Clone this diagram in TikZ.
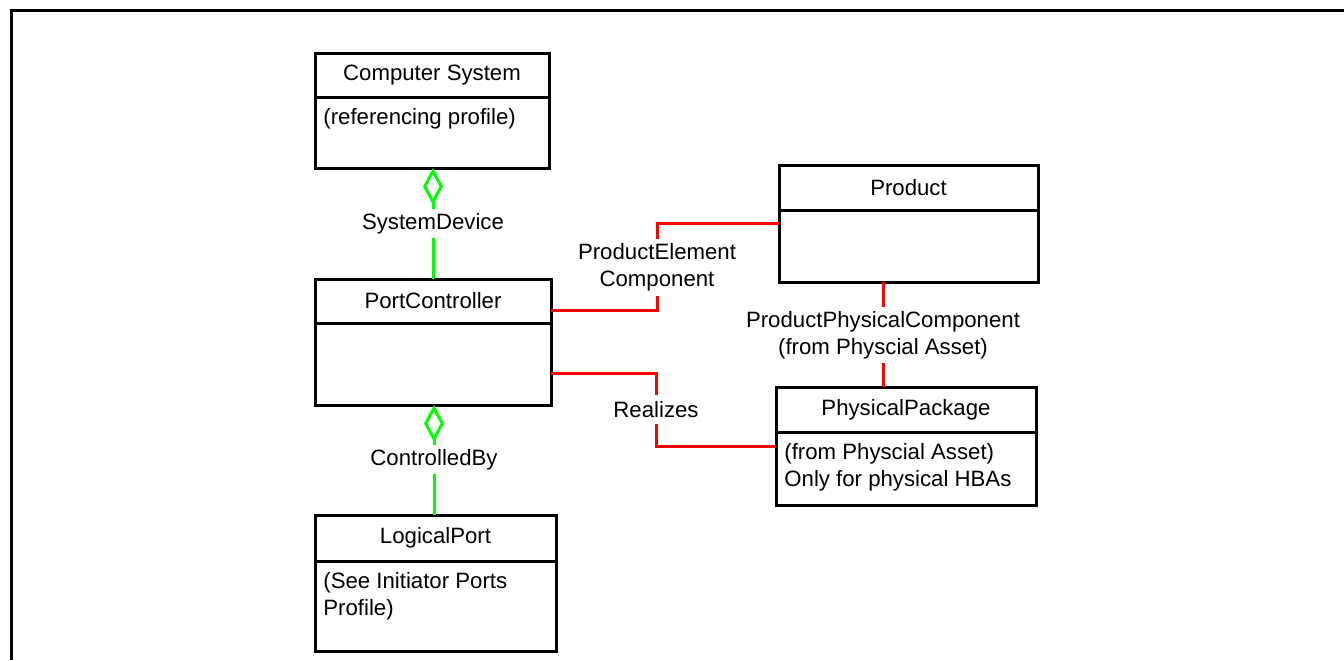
\documentclass[tikz,border=0pt]{standalone}
\usepackage{fontspec}
\setmainfont{Liberation Sans}
\usetikzlibrary{arrows.meta}

\tikzset{
	classhead/.style={draw, line width=1.5pt, anchor=north west, inner sep=0pt, outer sep=0pt, minimum height=22pt},
	classbody/.style={draw, line width=1.5pt, anchor=north west, inner sep=0pt, outer sep=0pt},
	bodytext/.style={anchor=north west, align=left, inner sep=0pt, xshift=4pt, yshift=-5.5pt},
	assoc/.style={align=center, inner sep=0pt, minimum height=14.5pt},
	greenlink/.style={draw=green, line width=1.5pt},
	redlink/.style={draw=red, line width=1.5pt},
	aggr/.style={greenlink, {Diamond[open,length=18.5pt,width=10pt]}-}
}

\begin{document}
\begin{tikzpicture}[x=0.5pt, y=-0.5pt, font=\fontsize{11.1}{13.5}\selectfont]
	\useasboundingbox (0,0) rectangle (1344,660);
	\draw[line width=1.5pt] (11,660) -- (11,10) -- (1344,10);

	\node[classhead, minimum width=117pt] (cs) at (315,53) {Computer System};
	\node[classbody, minimum width=117pt, minimum height=35.5pt] (csb) at (cs.south west) {};
	\node[bodytext] (cst) at (csb.north west) {(referencing profile)};

	\node[classhead, minimum width=118pt] (pc) at (315,279) {PortController};
	\node[classbody, minimum width=118pt, minimum height=41pt] (pcb) at (pc.south west) {};

	\node[classhead, minimum width=120.5pt, minimum height=23pt] (lp) at (315,515) {LogicalPort};
	\node[classbody, minimum width=120.5pt, minimum height=45pt] (lpb) at (lp.south west) {};
	\node[bodytext] (lpt) at (lpb.north west) {(See Initiator Ports\\Profile)};

	\node[classhead, minimum width=129.5pt, minimum height=22.5pt] (pr) at (779,165) {Product};
	\node[classbody, minimum width=129.5pt, minimum height=36pt] (prb) at (pr.south west) {};

	\node[classhead, minimum width=130pt, minimum height=22.5pt] (pp) at (776,387) {PhysicalPackage};
	\node[classbody, minimum width=130pt, minimum height=36.5pt] (ppb) at (pp.south west) {};
	\node[bodytext] (ppt) at (ppb.north west) {(from Physcial Asset)\\Only for physical HBAs};

	\node[assoc] (sd) at (433,223.5) {SystemDevice};
	\node[assoc] (cb) at (434,459.5) {ControlledBy};
	\node[assoc, minimum height=28.5pt] (pec) at (657,267.5) {ProductElement\\Component};
	\node[assoc, minimum height=28pt] (ppc) at (883,335) {ProductPhysicalComponent\\(from Physcial Asset)};
	\node[assoc] (rz) at (656,409.5) {Realizes};

	\draw[aggr] (csb.south -| sd) -- (sd.north);
	\draw[greenlink] (sd.south) -- (sd.south |- pc.north);
	\draw[aggr] (pcb.south -| cb) -- (cb.north);
	\draw[greenlink] (cb.south) -- (cb.south |- lp.north);
	\draw[redlink] ([yshift=-4.5pt]pc.east) -| (pec.south);
	\draw[redlink] (pec.north) |- ([yshift=11.5pt]prb.west);
	\draw[redlink] (ppc.north) -- (ppc.north |- prb.south);
	\draw[redlink] (ppc.south) -- (ppc.south |- pp.north);
	\draw[redlink] ([yshift=-4.5pt]pcb.east) -| (rz.north);
	\draw[redlink] (rz.south) |- ([yshift=11.25pt]ppb.west);
\end{tikzpicture}
\end{document}
